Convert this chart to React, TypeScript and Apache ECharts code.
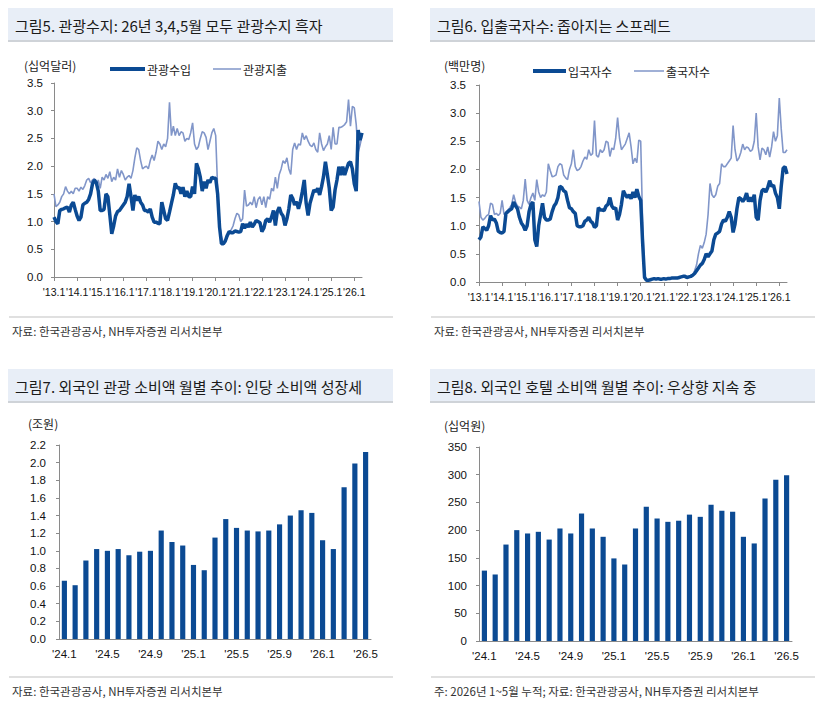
import React, { useEffect, useRef } from "react";
import * as echarts from "echarts";

// ---- categories -------------------------------------------------------
function monthLabels(startYear: number, startMonth: number, count: number): string[] {
  const out: string[] = [];
  let y = startYear;
  let m = startMonth;
  for (let i = 0; i < count; i++) {
    out.push("'" + String(y % 100).padStart(2, "0") + "." + m);
    m += 1;
    if (m > 12) {
      m = 1;
      y += 1;
    }
  }
  return out;
}

const lineMonths = monthLabels(2013, 1, 161); // '13.1 ~ '26.5
const barMonths = monthLabels(2024, 1, 29); // '24.1 ~ '26.5

// ---- 그림5: 관광수지 (십억달러) ----------------------------------------
const tourismReceipts = [
  1.08, 1.0, 0.96, 1.2, 1.22, 1.23, 1.25, 1.26, 1.17, 1.3, 1.35, 1.22,
  1.1, 1.02, 1.08, 1.3, 1.33, 1.35, 1.4, 1.5, 1.68, 1.75, 1.7, 1.55,
  1.2, 1.2, 1.22, 1.5, 1.45, 1.12, 0.78, 0.92, 1.1, 1.18, 1.2, 1.25,
  1.3, 1.35, 1.45, 1.68, 1.45, 1.2, 1.48, 1.38, 1.45, 1.35, 1.3, 1.2,
  1.2, 1.17, 1.23, 1.08, 0.99, 0.99, 0.97, 0.96, 1.35, 1.2, 1.05, 1.02,
  1.17, 1.33, 1.48, 1.69, 1.6, 1.62, 1.5, 1.62, 1.45, 1.55, 1.45, 1.45,
  1.63, 1.5, 2.05, 1.95, 1.8, 1.55, 1.72, 1.6, 1.75, 1.7, 1.8, 1.78,
  1.78, 1.5, 0.9, 0.6, 0.6, 0.65, 0.75, 0.82, 0.8, 0.8, 0.83, 0.82,
  0.81, 0.82, 0.96, 0.88, 0.95, 0.9, 0.99, 0.9, 0.95, 1.02, 1.0, 0.98,
  0.82, 0.88, 1.02, 1.05, 0.99, 1.08, 1.2, 0.93, 1.18, 1.26, 1.15, 1.1,
  0.93, 1.05, 1.23, 1.48, 1.42, 1.3, 1.36, 1.23, 1.36, 1.54, 1.75, 1.33,
  1.11, 1.33, 1.45, 1.57, 1.54, 1.6, 1.48, 1.63, 1.81, 2.08, 1.85, 1.6,
  1.2, 1.26, 1.57, 1.75, 1.99, 1.84, 1.99, 1.84, 1.95, 2.05, 2.08, 1.95,
  1.68, 1.55, 2.65, 2.47, 2.6,
];

const tourismSpending = [
  1.5, 1.27, 1.3, 1.35, 1.45, 1.5, 1.63, 1.55, 1.5, 1.55, 1.5, 1.6,
  1.6, 1.55, 1.62, 1.58, 1.65, 1.75, 1.78, 1.7, 1.75, 1.78, 1.65, 1.75,
  1.6, 1.8, 1.75, 1.85, 1.78, 1.9, 1.72, 1.8, 1.75, 1.95, 1.8, 1.92,
  1.85, 1.75, 1.8, 1.83, 1.78, 1.92, 2.15, 2.33, 2.3, 2.1, 1.95, 1.98,
  2.0, 1.95, 2.1, 2.2, 2.1, 2.25, 2.45, 2.4, 2.3, 2.4, 2.35, 2.5,
  3.15, 2.55, 2.72, 2.55, 2.68, 2.55, 2.62, 2.6, 2.45, 2.5, 2.48, 2.6,
  2.78, 2.4, 2.3, 2.35, 2.5, 2.62, 2.6, 2.52, 2.3, 2.45, 2.6, 2.68,
  2.55, 1.6, 0.95, 0.72, 0.62, 0.65, 0.72, 0.78, 0.85, 0.92, 1.05, 1.15,
  1.12, 1.0, 1.05, 1.57, 1.28, 1.3, 1.35, 1.3, 1.45, 1.25, 1.4, 1.45,
  1.3, 1.45, 1.25, 1.45, 1.4, 1.6, 1.55, 1.8, 1.6, 1.85, 1.95, 2.1,
  2.05, 2.15, 1.95, 1.85, 2.3, 2.42, 2.3, 2.4, 2.38, 2.6, 2.48, 2.55,
  2.45, 2.38, 2.35, 2.42, 2.3, 2.25, 2.6, 2.4, 2.28, 2.35, 2.4, 2.55,
  2.3, 2.7, 2.4, 2.4, 2.7, 2.7, 2.72, 2.75, 2.8, 3.2, 2.72, 3.08,
  3.05, 2.75, 2.25, 2.38, 2.55,
];

// ---- 그림6: 입출국자수 (백만명) ----------------------------------------
const arrivals = [
  0.75, 0.8, 0.98, 0.95, 0.92, 1.0, 1.18, 1.1, 1.12, 1.05, 0.9, 0.88,
  0.87, 0.9, 1.22, 1.25, 1.28, 1.3, 1.42, 1.35, 1.3, 1.15, 1.05, 1.0,
  0.92, 1.0, 1.25, 1.38, 1.42, 0.75, 0.63, 1.0, 1.2, 1.4, 1.15, 1.1,
  1.1, 1.12, 1.25, 1.35, 1.4, 1.5, 1.7, 1.68, 1.62, 1.6, 1.45, 1.32,
  1.3, 1.25, 1.22, 1.0, 0.98, 0.98, 1.0, 1.08, 1.1, 1.15, 1.08, 1.05,
  0.97, 1.0, 1.32, 1.28, 1.28, 1.27, 1.35, 1.38, 1.5, 1.35, 1.3, 1.32,
  1.1, 1.2, 1.38, 1.62, 1.55, 1.5, 1.55, 1.48, 1.6, 1.5, 1.65, 1.52,
  1.45, 0.7, 0.08, 0.03, 0.03, 0.04, 0.05, 0.06, 0.05, 0.06, 0.05, 0.05,
  0.06, 0.05, 0.06, 0.06, 0.07, 0.07, 0.07, 0.07, 0.08, 0.09, 0.1, 0.1,
  0.08, 0.09, 0.1, 0.12, 0.15, 0.2, 0.25, 0.3, 0.33, 0.4, 0.5, 0.45,
  0.5, 0.55, 0.75, 0.85, 0.87, 0.9, 1.03, 1.1, 1.08, 1.15, 1.25, 1.15,
  0.88, 1.03, 1.3, 1.5, 1.48, 1.43, 1.48, 1.58, 1.43, 1.5, 1.43, 1.55,
  1.15, 1.1, 1.45, 1.62, 1.65, 1.6, 1.68, 1.8, 1.7, 1.72, 1.58, 1.5,
  1.3, 1.7, 2.02, 2.05, 1.92,
];

const departures = [
  1.43, 1.15, 1.1, 1.13, 1.18, 1.2, 1.4, 1.38, 1.2, 1.22, 1.18, 1.22,
  1.45, 1.2, 1.22, 1.28, 1.32, 1.38, 1.55, 1.42, 1.35, 1.33, 1.3, 1.45,
  1.83, 1.45, 1.38, 1.5, 1.58, 1.45, 1.82, 1.6, 1.5, 1.55, 1.52, 1.6,
  2.1, 1.98, 1.87, 1.88, 1.9, 2.05, 2.1, 2.08, 1.9, 1.85, 1.82, 2.0,
  2.1, 2.35, 2.05, 1.98, 2.0, 2.05, 2.15, 2.22, 2.18, 2.35, 2.25, 2.28,
  2.87, 2.25, 2.22, 2.35, 2.3, 2.35, 2.5, 2.48, 2.23, 2.38, 2.35, 2.55,
  2.92, 2.55, 2.35, 2.4, 2.45, 2.55, 2.65, 2.4, 2.1, 2.2, 2.12, 2.52,
  2.5, 1.05, 0.14, 0.03, 0.03, 0.04, 0.05, 0.06, 0.05, 0.06, 0.06, 0.05,
  0.05, 0.05, 0.06, 0.07, 0.07, 0.07, 0.08, 0.08, 0.08, 0.09, 0.1, 0.11,
  0.07, 0.08, 0.1, 0.12, 0.2, 0.3, 0.5, 0.65, 0.6, 0.7, 0.85, 1.2,
  1.75, 1.55, 1.5, 1.55, 1.7, 1.75, 2.1, 2.05, 2.05, 2.1, 2.15, 2.2,
  2.78, 2.35, 2.15, 2.2, 2.3, 2.45, 2.35, 2.4, 2.38, 2.32, 2.35, 2.5,
  3.0, 2.4, 2.17, 2.38, 2.35, 2.26, 2.4, 2.22, 2.4, 2.67, 2.5, 2.6,
  3.27, 2.72, 2.3, 2.3, 2.35,
];

// ---- 그림7: 외국인 관광 소비액 (조원) ----------------------------------
const touristSpend = [
  0.66, 0.61, 0.89, 1.02, 1.0, 1.02, 0.95, 0.99, 1.0, 1.23, 1.1, 1.06,
  0.84, 0.78, 1.15, 1.36, 1.26, 1.23, 1.22, 1.23, 1.3, 1.4, 1.46, 1.43,
  1.12, 1.02, 1.72, 1.99, 2.12,
];

// ---- 그림8: 외국인 호텔 소비액 (십억원) --------------------------------
const hotelSpend = [
  127, 120, 174, 200, 194, 197, 183, 203, 194, 230, 203, 188,
  149, 138, 203, 242, 221, 215, 217, 228, 224, 246, 235, 233,
  188, 176, 257, 291, 299,
];

// ---- text --------------------------------------------------------------
const titles = [
  "그림5. 관광수지: 26년 3,4,5월 모두 관광수지 흑자",
  "그림6. 입출국자수: 좁아지는 스프레드",
  "그림7. 외국인 관광 소비액 월별 추이: 인당 소비액 성장세",
  "그림8. 외국인 호텔 소비액 월별 추이: 우상향 지속 중",
];
const units = ["(십억달러)", "(백만명)", "(조원)", "(십억원)"];
const sources = [
  "자료: 한국관광공사, NH투자증권 리서치본부",
  "자료: 한국관광공사, NH투자증권 리서치본부",
  "자료: 한국관광공사, NH투자증권 리서치본부",
  "주: 2026년 1~5월 누적; 자료: 한국관광공사, NH투자증권 리서치본부",
];

const KR = "'Noto Sans CJK KR', 'Noto Sans', sans-serif";
const NUM = "'Liberation Sans', Arial, sans-serif";
const DARK = "#0b4a93";
const LIGHT = "#8196c9";
const AXIS = "#8a8a8a";
const BANNER = "#e8eef7";

// panel frames: banner span, banner top, source separator y, unit label position
const panels = [
  { x0: 8, x1: 393, top: 8, sep: 317, unitX: 24, unitY: 65 },
  { x0: 430, x1: 815, top: 8, sep: 317, unitX: 444, unitY: 65 },
  { x0: 8, x1: 393, top: 369, sep: 677, unitX: 28, unitY: 423 },
  { x0: 430, x1: 815, top: 369, sep: 677, unitX: 444, unitY: 425 },
];

function buildGraphics() {
  const g: any[] = [];
  panels.forEach((p, i) => {
    g.push({
      type: "rect",
      shape: { x: p.x0, y: p.top, width: p.x1 - p.x0, height: 32 },
      style: { fill: BANNER },
      silent: true,
    });
    g.push({
      type: "line",
      shape: { x1: p.x0, y1: p.top + 33, x2: p.x1, y2: p.top + 33 },
      style: { stroke: "#cfd3d8", lineWidth: 2 },
      silent: true,
    });
    g.push({
      type: "text",
      x: p.x0 + 7,
      y: p.top + 17,
      style: {
        text: titles[i],
        fontSize: 15,
        fontFamily: KR,
        fill: "#1a1a1a",
        verticalAlign: "middle",
      },
      silent: true,
    });
    g.push({
      type: "text",
      x: p.unitX,
      y: p.unitY,
      style: {
        text: units[i],
        fontSize: 12,
        fontFamily: KR,
        fill: "#222",
        verticalAlign: "middle",
      },
      silent: true,
    });
    g.push({
      type: "line",
      shape: { x1: p.x0 + 1, y1: p.sep, x2: p.x1, y2: p.sep },
      style: { stroke: "#e0e0e0", lineWidth: 2 },
      silent: true,
    });
    g.push({
      type: "text",
      x: p.x0 + 4,
      y: p.sep + 14,
      style: {
        text: sources[i],
        fontSize: 11.5,
        fontFamily: KR,
        fill: "#333",
        verticalAlign: "middle",
      },
      silent: true,
    });
  });
  return g;
}

// January of every year gets a tick and a label
const isJanuary = (index: number) => index % 12 === 0;

function lineXAxis(gridIndex: number) {
  return {
    type: "category",
    gridIndex,
    data: lineMonths,
    boundaryGap: false,
    axisLine: { lineStyle: { color: AXIS, width: 1 } },
    axisTick: { interval: isJanuary, length: 4, lineStyle: { color: AXIS } },
    axisLabel: {
      interval: isJanuary,
      fontSize: 10.5,
      fontFamily: NUM,
      color: "#111",
      margin: 9,
    },
  };
}

function barXAxis(gridIndex: number) {
  return {
    type: "category",
    gridIndex,
    data: barMonths,
    boundaryGap: true,
    axisLine: { lineStyle: { color: AXIS, width: 1 } },
    axisTick: { interval: 3, length: 4, lineStyle: { color: AXIS } },
    axisLabel: {
      interval: 3,
      fontSize: 11.5,
      fontFamily: NUM,
      color: "#111",
      margin: 9,
    },
  };
}

function valueYAxis(gridIndex: number, max: number, interval: number, digits: number, margin: number) {
  return {
    type: "value",
    gridIndex,
    min: 0,
    max,
    interval,
    splitLine: { show: false },
    axisLine: { show: true, lineStyle: { color: AXIS, width: 1 } },
    axisTick: { show: true, length: 3, lineStyle: { color: AXIS } },
    axisLabel: {
      fontSize: 11.5,
      fontFamily: NUM,
      color: "#111",
      margin,
      formatter: (v: number) => v.toFixed(digits),
    },
  };
}

function legendItem(name: string, left: number, top: number, w: number, h: number) {
  return {
    data: [name],
    left,
    top,
    icon: "rect",
    itemWidth: w,
    itemHeight: h,
    padding: 0,
    selectedMode: false,
    textStyle: { fontSize: 12, fontFamily: KR, color: "#222", padding: [0, 0, 0, -3] },
  };
}

export default function App() {
  const ref = useRef<HTMLDivElement>(null);

  useEffect(() => {
    document.body.style.margin = "0";
    if (!ref.current) return;
    const chart = echarts.init(ref.current, undefined, { renderer: "svg" });

    const option: any = {
      animation: false,
      backgroundColor: "#ffffff",
      grid: [
        { left: 54, top: 83, width: 308, height: 194 },
        { left: 479, top: 85, width: 308, height: 197 },
        { left: 59, top: 445, width: 312, height: 194 },
        { left: 479, top: 447, width: 313, height: 194 },
      ],
      xAxis: [lineXAxis(0), lineXAxis(1), barXAxis(2), barXAxis(3)],
      yAxis: [
        valueYAxis(0, 3.5, 0.5, 1, 11),
        valueYAxis(1, 3.5, 0.5, 1, 13),
        valueYAxis(2, 2.2, 0.2, 1, 13),
        valueYAxis(3, 350, 50, 0, 12),
      ],
      legend: [
        legendItem("관광수입", 110, 63, 35, 4),
        legendItem("관광지출", 213, 63, 28, 1.5),
        legendItem("입국자수", 533, 65, 33, 4),
        legendItem("출국자수", 634, 65, 30, 1.5),
      ],
      series: [
        {
          name: "관광지출",
          type: "line",
          xAxisIndex: 0,
          yAxisIndex: 0,
          data: tourismSpending,
          symbol: "none",
          itemStyle: { color: LIGHT },
          lineStyle: { color: LIGHT, width: 1.6 },
          z: 2,
        },
        {
          name: "관광수입",
          type: "line",
          xAxisIndex: 0,
          yAxisIndex: 0,
          data: tourismReceipts,
          symbol: "none",
          itemStyle: { color: DARK },
          lineStyle: { color: DARK, width: 3.5 },
          z: 3,
        },
        {
          name: "출국자수",
          type: "line",
          xAxisIndex: 1,
          yAxisIndex: 1,
          data: departures,
          symbol: "none",
          itemStyle: { color: LIGHT },
          lineStyle: { color: LIGHT, width: 1.6 },
          z: 2,
        },
        {
          name: "입국자수",
          type: "line",
          xAxisIndex: 1,
          yAxisIndex: 1,
          data: arrivals,
          symbol: "none",
          itemStyle: { color: DARK },
          lineStyle: { color: DARK, width: 3.5 },
          z: 3,
        },
        {
          name: "외국인 관광 소비액",
          type: "bar",
          xAxisIndex: 2,
          yAxisIndex: 2,
          data: touristSpend,
          barWidth: "48%",
          itemStyle: { color: DARK },
        },
        {
          name: "외국인 호텔 소비액",
          type: "bar",
          xAxisIndex: 3,
          yAxisIndex: 3,
          data: hotelSpend,
          barWidth: "48%",
          itemStyle: { color: DARK },
        },
      ],
      graphic: buildGraphics(),
    };

    chart.setOption(option);
    return () => {
      chart.dispose();
    };
  }, []);

  return <div ref={ref} style={{ width: 822, height: 701 }} />;
}
